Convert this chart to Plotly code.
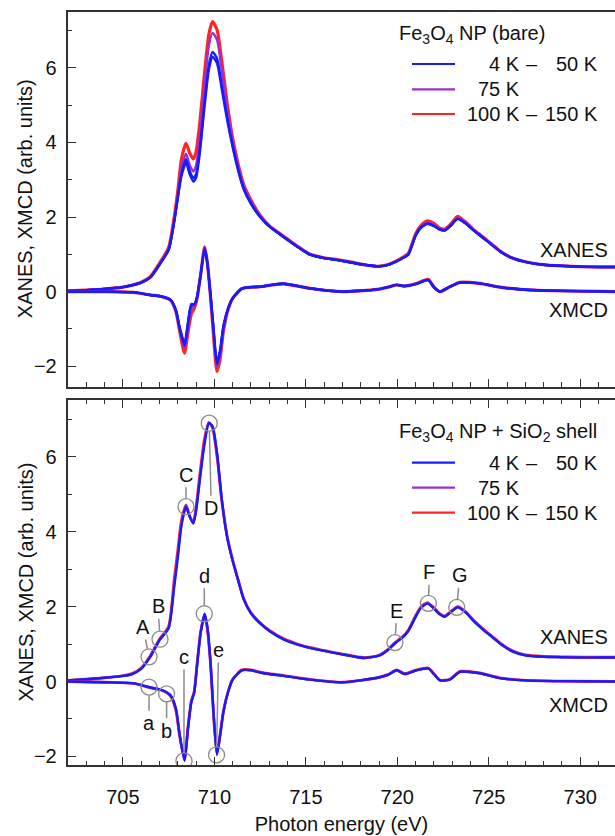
import plotly.graph_objects as go

# ---------------- data ----------------
E_xas = [702, 703, 704, 705, 705.5, 706, 706.5, 707, 707.5, 707.8,
         708.0, 708.2, 708.45, 708.65, 708.85, 709.0, 709.2, 709.45, 709.7, 709.9,
         710.15, 710.4, 710.7, 711.0, 711.3, 711.6, 712.0, 712.5, 713.0, 713.8,
         714.5, 715.2, 716.0, 716.7, 717.5, 718.2, 719.0, 719.5, 719.9, 720.3,
         720.6, 721.0, 721.3, 721.65, 722.0, 722.3, 722.6, 722.9, 723.3, 723.7,
         724.2, 724.7, 725.2, 725.7, 726.3, 727.0, 728.0, 729.0, 730.0, 731.0,
         732.0]

E_mcd = [702, 704, 705.6, 706.5, 707.1, 707.6, 707.9, 708.1, 708.37, 708.55,
         708.74, 708.9, 709.05, 709.25, 709.47, 709.62, 709.8, 709.95, 710.14, 710.3,
         710.5, 710.75, 711.0, 711.5, 712.0, 712.5, 713.0, 713.8, 715.2, 717.0,
         718.9, 719.5, 719.96, 720.4, 721.05, 721.69, 722.0, 722.33, 722.87, 723.42,
         724.5, 725.6, 727.0, 729.0, 732.0]

# ---- Fe3O4 NP (bare): XANES ----
bare_xanes_4K = [0.02, 0.04, 0.07, 0.12, 0.17, 0.24, 0.38, 0.72, 1.12, 1.85,
                 2.5, 3.1, 3.45, 3.15, 2.95, 3.05, 3.7, 4.9, 5.95, 6.30,
                 6.12, 5.45, 4.6, 3.88, 3.25, 2.75, 2.35, 2.0, 1.75, 1.46,
                 1.22, 1.0, 0.9, 0.85, 0.78, 0.72, 0.68, 0.72, 0.8, 0.9,
                 0.99, 1.5, 1.72, 1.82, 1.76, 1.67, 1.64, 1.76, 1.95, 1.84,
                 1.63, 1.44, 1.24, 1.05, 0.9, 0.8, 0.72, 0.69, 0.67, 0.66,
                 0.66]
bare_xanes_50K = [0.02, 0.04, 0.07, 0.12, 0.17, 0.24, 0.38, 0.72, 1.12, 1.87,
                  2.52, 3.15, 3.55, 3.25, 3.04, 3.15, 3.8, 5.0, 6.08, 6.43,
                  6.25, 5.55, 4.68, 3.92, 3.28, 2.77, 2.37, 2.01, 1.75, 1.46,
                  1.22, 1.0, 0.9, 0.85, 0.78, 0.72, 0.68, 0.72, 0.8, 0.9,
                  0.99, 1.5, 1.72, 1.82, 1.76, 1.67, 1.64, 1.76, 1.95, 1.84,
                  1.63, 1.44, 1.24, 1.05, 0.9, 0.8, 0.72, 0.69, 0.67, 0.66,
                  0.66]
bare_xanes_75K = [0.02, 0.04, 0.07, 0.12, 0.17, 0.24, 0.38, 0.73, 1.13, 1.9,
                  2.58, 3.3, 3.7, 3.4, 3.22, 3.38, 4.1, 5.45, 6.6, 6.94,
                  6.75, 5.95, 4.9, 4.02, 3.35, 2.83, 2.42, 2.03, 1.76, 1.47,
                  1.22, 1.0, 0.9, 0.85, 0.78, 0.72, 0.68, 0.72, 0.8, 0.9,
                  1.0, 1.52, 1.75, 1.85, 1.79, 1.69, 1.66, 1.78, 1.98, 1.86,
                  1.64, 1.45, 1.25, 1.05, 0.9, 0.8, 0.72, 0.69, 0.67, 0.66,
                  0.66]
bare_xanes_150K = [0.02, 0.04, 0.07, 0.12, 0.17, 0.25, 0.4, 0.76, 1.18, 1.98,
                   2.7, 3.55, 3.98, 3.72, 3.56, 3.75, 4.5, 5.8, 6.9, 7.24,
                   7.02, 6.2, 5.05, 4.12, 3.42, 2.88, 2.46, 2.05, 1.77, 1.48,
                   1.23, 1.01, 0.91, 0.86, 0.79, 0.72, 0.68, 0.73, 0.81, 0.92,
                   1.02, 1.55, 1.78, 1.9, 1.83, 1.71, 1.68, 1.8, 2.02, 1.88,
                   1.65, 1.46, 1.26, 1.06, 0.9, 0.8, 0.72, 0.69, 0.67, 0.66,
                   0.66]

# ---- Fe3O4 NP (bare): XMCD ----
bare_xmcd_4K = [0.0, 0.0, -0.02, -0.09, -0.13, -0.22, -0.5, -0.95, -1.38, -0.85,
                -0.33, -0.34, -0.15, 0.45, 1.16, 0.75, -0.15, -0.95, -1.88, -1.6,
                -0.9, -0.45, -0.18, 0.08, 0.12, 0.13, 0.17, 0.21, 0.09, 0.0,
                0.06, 0.12, 0.18, 0.15, 0.21, 0.31, 0.12, 0.0, 0.13, 0.24,
                0.22, 0.12, 0.05, 0.02, 0.0]
bare_xmcd_50K = [0.0, 0.0, -0.02, -0.09, -0.13, -0.22, -0.5, -0.97, -1.45, -0.9,
                 -0.36, -0.35, -0.15, 0.45, 1.17, 0.75, -0.15, -0.98, -1.95, -1.66,
                 -0.93, -0.46, -0.18, 0.08, 0.12, 0.13, 0.17, 0.21, 0.09, 0.0,
                 0.06, 0.12, 0.18, 0.15, 0.21, 0.31, 0.12, 0.0, 0.13, 0.24,
                 0.22, 0.12, 0.05, 0.02, 0.0]
bare_xmcd_75K = [0.0, 0.0, -0.02, -0.09, -0.13, -0.22, -0.52, -1.0, -1.52, -1.0,
                 -0.45, -0.38, -0.17, 0.45, 1.18, 0.76, -0.17, -1.06, -2.02, -1.74,
                 -0.98, -0.47, -0.18, 0.08, 0.12, 0.13, 0.17, 0.21, 0.09, 0.0,
                 0.06, 0.12, 0.18, 0.15, 0.21, 0.32, 0.12, 0.0, 0.13, 0.24,
                 0.22, 0.12, 0.05, 0.02, 0.0]
bare_xmcd_150K = [0.0, 0.0, -0.02, -0.09, -0.13, -0.23, -0.54, -1.05, -1.65, -1.12,
                  -0.6, -0.45, -0.2, 0.45, 1.2, 0.77, -0.2, -1.15, -2.14, -1.85,
                  -1.05, -0.48, -0.18, 0.08, 0.12, 0.13, 0.17, 0.21, 0.09, 0.0,
                  0.06, 0.12, 0.18, 0.15, 0.22, 0.33, 0.12, 0.0, 0.13, 0.25,
                  0.22, 0.12, 0.05, 0.02, 0.0]

# ---- Fe3O4 NP + SiO2 shell: XANES ----
shell_xanes_4K = [0.03, 0.06, 0.1, 0.15, 0.2, 0.34, 0.66, 1.1, 1.42, 2.5,
                  3.3, 4.15, 4.67, 4.4, 4.22, 4.55, 5.35, 6.3, 6.9, 6.82,
                  6.1, 4.9, 3.85, 3.22, 2.7, 2.2, 1.82, 1.55, 1.35, 1.12,
                  0.99, 0.9, 0.82, 0.75, 0.68, 0.63, 0.69, 0.85, 1.03, 1.18,
                  1.35, 1.72, 1.97, 2.08, 1.95, 1.8, 1.73, 1.84, 1.98, 1.86,
                  1.6, 1.38, 1.18, 0.98, 0.8, 0.7, 0.66, 0.65, 0.64, 0.64,
                  0.64]
shell_xanes_75K = [0.03, 0.06, 0.1, 0.15, 0.2, 0.35, 0.67, 1.11, 1.44, 2.58,
                   3.38, 4.22, 4.7, 4.41, 4.23, 4.6, 5.42, 6.38, 6.91, 6.8,
                   6.05, 4.88, 3.87, 3.24, 2.71, 2.21, 1.83, 1.56, 1.36, 1.13,
                   1.0, 0.9, 0.82, 0.75, 0.68, 0.63, 0.69, 0.85, 1.04, 1.19,
                   1.36, 1.74, 1.99, 2.1, 1.96, 1.81, 1.74, 1.85, 1.99, 1.87,
                   1.61, 1.39, 1.19, 0.99, 0.81, 0.7, 0.66, 0.65, 0.64, 0.64,
                   0.64]
shell_xanes_150K = [0.03, 0.06, 0.1, 0.15, 0.21, 0.36, 0.69, 1.13, 1.47, 2.7,
                    3.5, 4.3, 4.72, 4.42, 4.25, 4.65, 5.5, 6.45, 6.92, 6.78,
                    6.0, 4.85, 3.88, 3.25, 2.72, 2.22, 1.84, 1.57, 1.37, 1.14,
                    1.01, 0.91, 0.83, 0.76, 0.69, 0.64, 0.7, 0.86, 1.05, 1.2,
                    1.37, 1.76, 2.0, 2.11, 1.97, 1.82, 1.75, 1.86, 2.0, 1.88,
                    1.62, 1.4, 1.2, 1.0, 0.82, 0.71, 0.67, 0.66, 0.65, 0.65,
                    0.65]

# ---- Fe3O4 NP + SiO2 shell: XMCD ----
shell_xmcd_4K = [0.0, -0.02, -0.05, -0.16, -0.22, -0.37, -0.72, -1.4, -2.12, -1.3,
                 -0.55, -0.3, 0.4, 1.3, 1.81, 1.45, 0.45, -0.8, -1.96, -1.5,
                 -0.8, -0.28, 0.05, 0.3, 0.3, 0.24, 0.2, 0.15, 0.05, -0.02,
                 0.1, 0.18, 0.3, 0.2, 0.3, 0.35, 0.2, 0.03, 0.05, 0.26,
                 0.22, 0.09, 0.03, 0.01, 0.0]
shell_xmcd_75K = [0.0, -0.02, -0.05, -0.16, -0.22, -0.37, -0.74, -1.42, -2.1, -1.28,
                  -0.55, -0.28, 0.42, 1.3, 1.8, 1.43, 0.43, -0.82, -1.95, -1.48,
                  -0.79, -0.28, 0.05, 0.3, 0.3, 0.24, 0.2, 0.15, 0.05, -0.02,
                  0.1, 0.18, 0.3, 0.2, 0.3, 0.35, 0.2, 0.03, 0.05, 0.26,
                  0.22, 0.09, 0.03, 0.01, 0.0]
shell_xmcd_150K = [0.0, -0.02, -0.05, -0.17, -0.23, -0.38, -0.78, -1.46, -2.08, -1.25,
                   -0.53, -0.26, 0.45, 1.32, 1.78, 1.4, 0.4, -0.85, -1.93, -1.46,
                   -0.78, -0.27, 0.06, 0.31, 0.31, 0.25, 0.21, 0.16, 0.06, -0.02,
                   0.1, 0.19, 0.31, 0.21, 0.31, 0.36, 0.21, 0.04, 0.06, 0.27,
                   0.23, 0.1, 0.03, 0.01, 0.0]

# ---- marked spectral features (bottom panel) ----
feat_text = ['A', 'B', 'C', 'D', 'E', 'F', 'G', 'a', 'b', 'c', 'd', 'e']
feat_E = [706.43, 707.03, 708.45, 709.72, 719.87, 721.7, 723.25,
          706.43, 707.39, 708.34, 709.45, 710.12]
feat_V = [0.66, 1.13, 4.67, 6.9, 1.04, 2.09, 1.98,
          -0.15, -0.33, -2.12, 1.81, -1.96]
feat_dx = [-6, -2, 0, 2, 2, 1, 3, 0, 0, 0, 0, 2]
feat_dy = [-30, -33, -32, 85, -32, -31, -32, 36, 37, -104, -38, -105]

legend_left = ['4 K', '75 K', '100 K']
legend_right = ['50 K', '', '150 K']
temp_colors = ['#1a1aff', '#9b30d0', '#ff2424']
y_title = 'XANES, XMCD (arb. units)'

# ---------------- layout geometry ----------------
W, H = 615, 836
ML, MR, MT, MB = 68, 0, 12, 71
PW = W - ML - MR
PH = H - MT - MB


def px(x):
    return (x - ML) / PW


def py(y):
    return (H - MB - y) / PH


FONT = "Liberation Sans, Arial, Helvetica, sans-serif"
BLUE, PURPLE, RED = temp_colors

fig = go.Figure()


def add_line(x, y, color, xa, ya, width=2.4):
    fig.add_trace(go.Scatter(x=x, y=y, mode='lines', xaxis=xa, yaxis=ya,
                             line=dict(color=color, width=width, shape='spline', smoothing=0.6),
                             showlegend=False, hoverinfo='skip'))


# top panel (bare)
add_line(E_xas, bare_xanes_150K, RED, 'x', 'y', 3.2)
add_line(E_xas, bare_xanes_75K, PURPLE, 'x', 'y')
add_line(E_xas, bare_xanes_50K, BLUE, 'x', 'y')
add_line(E_xas, bare_xanes_4K, BLUE, 'x', 'y')
add_line(E_mcd, bare_xmcd_150K, RED, 'x', 'y', 3.2)
add_line(E_mcd, bare_xmcd_75K, PURPLE, 'x', 'y')
add_line(E_mcd, bare_xmcd_50K, BLUE, 'x', 'y')
add_line(E_mcd, bare_xmcd_4K, BLUE, 'x', 'y')

# bottom panel (shell)
add_line(E_xas, shell_xanes_150K, RED, 'x2', 'y2', 2.8)
add_line(E_xas, shell_xanes_75K, PURPLE, 'x2', 'y2')
add_line(E_xas, shell_xanes_4K, BLUE, 'x2', 'y2')
add_line(E_mcd, shell_xmcd_150K, RED, 'x2', 'y2', 2.8)
add_line(E_mcd, shell_xmcd_75K, PURPLE, 'x2', 'y2')
add_line(E_mcd, shell_xmcd_4K, BLUE, 'x2', 'y2')

# feature circles
fig.add_trace(go.Scatter(x=feat_E, y=feat_V, mode='markers', xaxis='x2', yaxis='y2',
                         marker=dict(symbol='circle-open', size=16, color='#8c8c8c',
                                     line=dict(width=1.3, color='#8c8c8c')),
                         showlegend=False, hoverinfo='skip'))

annotations = []
for t, e, v, dx, dy in zip(feat_text, feat_E, feat_V, feat_dx, feat_dy):
    annotations.append(dict(x=e, y=v, xref='x2', yref='y2', text=t, showarrow=True,
                            ax=dx, ay=dy, arrowhead=0, arrowwidth=1.5, arrowcolor='#8c8c8c',
                            standoff=8, font=dict(size=20, color='#111', family=FONT)))

# XANES / XMCD labels
for txt, yv, ya in [('XANES', 1.11, 'y'), ('XMCD', -0.5, 'y'),
                    ('XANES', 1.18, 'y2'), ('XMCD', -0.63, 'y2')]:
    annotations.append(dict(x=731.65, y=yv, xref='x' if ya == 'y' else 'x2', yref=ya,
                            text=txt, showarrow=False, xanchor='right', yanchor='middle',
                            font=dict(size=20, color='#111', family=FONT)))

# y-axis titles (placed as rotated text, centred on each panel)
for yc in [(11.7 + 386.7) / 2, (400 + 765) / 2]:
    annotations.append(dict(x=px(25), y=py(yc), xref='paper', yref='paper', text=y_title,
                            textangle=-90, showarrow=False, xanchor='center', yanchor='middle',
                            font=dict(size=20, color='#111', family=FONT)))

# custom legends
shapes = []
legend_blocks = [
    ('Fe<sub>3</sub>O<sub>4</sub> NP (bare)', 35, [64, 89.3, 114]),
    ('Fe<sub>3</sub>O<sub>4</sub> NP + SiO<sub>2</sub> shell', 433, [462.7, 487.7, 512.7]),
]
for title, ty, rows in legend_blocks:
    annotations.append(dict(x=px(397), y=py(ty), xref='paper', yref='paper', text=title,
                            showarrow=False, xanchor='left', yanchor='middle',
                            font=dict(size=20, color='#111', family=FONT)))
    for ry, col, lt, rt in zip(rows, temp_colors, legend_left, legend_right):
        shapes.append(dict(type='line', xref='paper', yref='paper',
                           x0=px(412), x1=px(455), y0=py(ry), y1=py(ry),
                           line=dict(color=col, width=2.2)))
        annotations.append(dict(x=px(522), y=py(ry), xref='paper', yref='paper', text=lt,
                                showarrow=False, xanchor='right', yanchor='middle',
                                font=dict(size=20, color='#111', family=FONT)))
        if rt:
            annotations.append(dict(x=px(532), y=py(ry), xref='paper', yref='paper', text='–',
                                    showarrow=False, xanchor='center', yanchor='middle',
                                    font=dict(size=20, color='#111', family=FONT)))
            annotations.append(dict(x=px(600), y=py(ry), xref='paper', yref='paper', text=rt,
                                    showarrow=False, xanchor='right', yanchor='middle',
                                    font=dict(size=20, color='#111', family=FONT)))

axis_common = dict(showgrid=False, zeroline=False, showline=True, linecolor='#333',
                   linewidth=1.5, ticks='inside', ticklen=8, tickwidth=1.3, tickcolor='#333',
                   tickfont=dict(size=20, color='#111', family=FONT))

xcommon = dict(axis_common, range=[702, 731.9], dtick=5, tick0=700,
               minor=dict(dtick=1, ticks='inside', ticklen=4.5, tickwidth=1.2, tickcolor='#333'))
ycommon = dict(axis_common, dtick=2, tick0=0, ticksuffix='\u00a0',
               minor=dict(dtick=1, ticks='inside', ticklen=4.5, tickwidth=1.2, tickcolor='#333'))

fig.update_layout(
    width=W, height=H,
    margin=dict(l=ML, r=MR, t=MT, b=MB, autoexpand=False),
    paper_bgcolor='white', plot_bgcolor='white',
    font=dict(family=FONT, size=20, color='#111'),
    xaxis=dict(xcommon, domain=[0, 1], anchor='y', showticklabels=False, mirror=True),
    xaxis2=dict(xcommon, domain=[0, 1], anchor='y2', showticklabels=True, mirror='ticks',
                ticklabelstandoff=13,
                title=dict(text='Photon energy (eV)', standoff=10,
                           font=dict(size=20, color='#111', family=FONT))),
    yaxis=dict(ycommon, domain=[py(386.7), 1], anchor='x', range=[-2.55, 7.5]),
    yaxis2=dict(ycommon, domain=[0, py(400)], anchor='x2', range=[-2.23, 7.52]),
    annotations=annotations,
    shapes=shapes,
    showlegend=False,
)

fig.write_html("out.html", config={'displayModeBar': False},
               post_script="document.body.style.margin='0';document.body.style.padding='0';"
                           "document.body.style.overflow='hidden';")
